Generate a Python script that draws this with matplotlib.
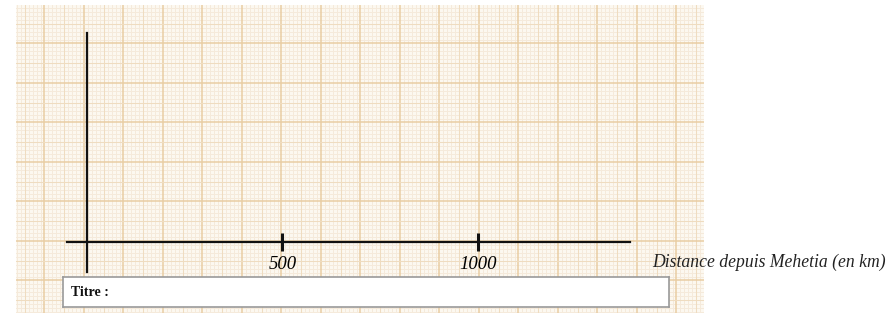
import numpy as np
import matplotlib
matplotlib.use("Agg")
import matplotlib.pyplot as plt

# chart content
tick_values = [500, 1000]
tick_labels = ["500", "1000"]
x_label = "Distance depuis Mehetia (en km)"
title_label = "Titre :"
x_range = (-50, 1388)
y_range = (-30, 209)

W, H = 887, 313
fig = plt.figure(figsize=(W / 100, H / 100), dpi=100)
fig.patch.set_facecolor("white")


def fx(px):
    return px / W


def fy(px):
    return 1 - px / H


# graph paper background, drawn in pixel units
paper = fig.add_axes([fx(16), 0, fx(704) - fx(16), fy(5)])
paper.set_xlim(16, 704)
paper.set_ylim(313, 5)
paper.axis("off")
paper.add_patch(plt.Rectangle((16, 5), 688, 308, facecolor="#fcf8f0", edgecolor="none", zorder=0))

step = 39.5
minor = step / 10


def line_style(i):
    if i % 10 == 0:
        return "#e9cda4", 1.1
    if i % 5 == 0:
        return "#efdcc0", 0.75
    return "#f5eadb", 0.72


# snap to pixel centres to avoid moire
xs = np.floor(np.arange(5.5, 704, minor)) + 0.5
ys = np.floor(np.arange(4.5, 313, minor)) + 0.5
for i, x in enumerate(xs):
    c, lw = line_style(i)
    paper.axvline(x, color=c, lw=lw, zorder=1 if i % 5 else 2)
for i, y in enumerate(ys):
    c, lw = line_style(i)
    paper.axhline(y, color=c, lw=lw, zorder=1 if i % 5 else 2)

# main axes
ax = fig.add_axes([fx(67), fy(272), fx(630) - fx(67), fy(33) - fy(272)])
ax.patch.set_visible(False)
ax.set_xlim(*x_range)
ax.set_ylim(*y_range)
for s in ["top", "right"]:
    ax.spines[s].set_visible(False)
ax.spines["left"].set_position(("data", 0))
ax.spines["bottom"].set_position(("data", 0))
ax.spines["left"].set_linewidth(1.6)
ax.spines["bottom"].set_linewidth(1.6)
ax.spines["left"].set_color("#111111")
ax.spines["bottom"].set_color("#111111")
ax.set_yticks([])
ax.set_xticks(tick_values)
ax.set_xticklabels(tick_labels, fontfamily="Liberation Serif", fontstyle="italic", fontsize=13.5)
ax.tick_params(axis="x", direction="inout", length=13.5, width=2.2, color="#111111", pad=3.5)

fig.text(fx(652), fy(262), x_label, fontfamily="Liberation Serif", fontstyle="italic",
         fontsize=12.7, ha="left", va="center", color="#222222")

# title box
box = fig.add_axes([fx(63), fy(307), fx(669) - fx(63), fy(277) - fy(307)])
box.set_facecolor("white")
box.set_xticks([])
box.set_yticks([])
for s in box.spines.values():
    s.set_color("#9a9a9a")
    s.set_linewidth(1.2)
box.text(8 / 606, 0.5, title_label, transform=box.transAxes, fontfamily="Liberation Serif",
         fontweight="bold", fontsize=10, va="center", ha="left", color="#111111")

fig.savefig("out.png", dpi=100)
